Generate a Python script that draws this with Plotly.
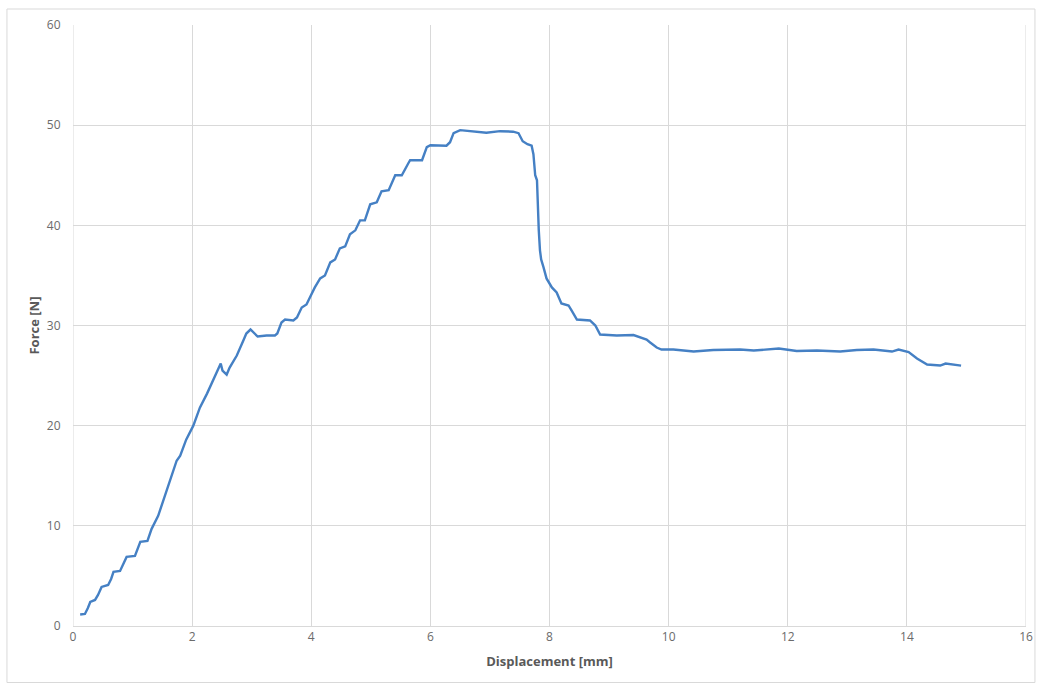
import plotly.graph_objects as go

displacement_mm = [
    0.12, 0.20, 0.25, 0.29, 0.37, 0.42, 0.48, 0.59, 0.64, 0.68, 0.79, 0.85, 0.90, 1.04,
    1.09, 1.13, 1.25, 1.32, 1.43, 1.50, 1.57, 1.65, 1.74, 1.80, 1.90, 2.02, 2.13, 2.25,
    2.36, 2.44, 2.48, 2.51, 2.58, 2.63, 2.75, 2.86, 2.91, 2.98, 3.03, 3.10, 3.25, 3.39,
    3.43, 3.50, 3.56, 3.70, 3.76, 3.84, 3.92, 4.01, 4.06, 4.15, 4.23, 4.32, 4.40, 4.48,
    4.57, 4.65, 4.74, 4.82, 4.90, 4.99, 5.10, 5.18, 5.30, 5.41, 5.52, 5.63, 5.66, 5.86,
    5.94, 6.00, 6.16, 6.27, 6.33, 6.39, 6.50, 6.72, 6.94, 7.17, 7.39, 7.48, 7.55, 7.63,
    7.70, 7.73, 7.76, 7.79, 7.80, 7.82, 7.84, 7.86, 7.90, 7.95, 8.04, 8.12, 8.20, 8.32,
    8.37, 8.46, 8.68, 8.77, 8.85, 9.13, 9.41, 9.52, 9.63, 9.69, 9.80, 9.88, 10.08, 10.42,
    10.75, 11.20, 11.43, 11.85, 12.15, 12.49, 12.88, 13.16, 13.44, 13.75, 13.86, 14.03,
    14.17, 14.34, 14.56, 14.65, 14.91,
]
force_n = [
    1.15, 1.2, 1.8, 2.4, 2.6, 3.1, 3.9, 4.1, 4.7, 5.4, 5.5, 6.2, 6.9, 7.0,
    7.7, 8.4, 8.5, 9.7, 11.0, 12.2, 13.5, 14.9, 16.5, 17.0, 18.6, 20.0, 21.8, 23.2,
    24.7, 25.8, 26.2, 25.5, 25.1, 25.8, 27.0, 28.5, 29.2, 29.6, 29.3, 28.9, 29.0, 29.0,
    29.2, 30.3, 30.6, 30.5, 30.8, 31.8, 32.1, 33.3, 33.8, 34.7, 35.0, 36.3, 36.6, 37.7,
    37.9, 39.1, 39.5, 40.5, 40.5, 42.1, 42.3, 43.4, 43.5, 45.0, 45.0, 46.2, 46.5, 46.5,
    47.8, 48.0, 48.0, 47.95, 48.3, 49.2, 49.5, 49.35, 49.25, 49.4, 49.35, 49.2, 48.4, 48.1,
    47.95, 47.1, 45.0, 44.5, 42.1, 39.5, 37.5, 36.6, 35.8, 34.7, 33.8, 33.3, 32.2, 32.0,
    31.5, 30.6, 30.5, 30.0, 29.1, 29.0, 29.05, 28.8, 28.6, 28.3, 27.8, 27.6, 27.6, 27.4,
    27.55, 27.6, 27.5, 27.7, 27.45, 27.5, 27.4, 27.55, 27.6, 27.4, 27.6, 27.35,
    26.7, 26.1, 26.0, 26.2, 26.0,
]

x_ticks = [0, 2, 4, 6, 8, 10, 12, 14, 16]
y_ticks = [0, 10, 20, 30, 40, 50, 60]

fig = go.Figure()
fig.add_trace(go.Scatter(
    x=displacement_mm, y=force_n, mode="lines",
    line=dict(color="#4580C4", width=2.4),
    showlegend=False,
))

axis_font = dict(family="Open Sans", size=12, color="#6B6B6B")
title_font = dict(family="Open Sans", size=13, color="#595959")

fig.update_layout(
    width=1038, height=684,
    margin=dict(l=73, r=12, t=25, b=58),
    paper_bgcolor="white", plot_bgcolor="white",
    xaxis=dict(
        range=[0, 16], tickvals=x_ticks, showgrid=True, gridcolor="#D9D9D9", gridwidth=1,
        zeroline=False, showline=True, linecolor="#D9D9D9", linewidth=1, mirror=False,
        tickfont=axis_font, ticks="", ticklen=0, automargin=False,
        title=dict(text="<b>Displacement [mm]</b>", font=title_font, standoff=12),
    ),
    yaxis=dict(
        range=[0, 60], tickvals=y_ticks, showgrid=True, gridcolor="#D9D9D9", gridwidth=1,
        zeroline=False, showline=False, tickfont=axis_font, ticks="outside",
        ticklen=9, tickcolor="rgba(0,0,0,0)", automargin=False,
        title=dict(text="<b>Force [N]</b>", font=title_font, standoff=4),
    ),
    shapes=[
        dict(type="rect", xref="paper", yref="paper",
             x0=-0.0693, x1=1.0094, y0=-0.094, y1=1.0266,
             line=dict(color="#D9D9D9", width=1), fillcolor="rgba(0,0,0,0)",
             layer="below"),
        dict(type="line", xref="x", yref="y", x0=0, x1=0, y0=0, y1=60,
             line=dict(color="#D9D9D9", width=1), layer="below"),
        dict(type="line", xref="x", yref="y", x0=16, x1=16, y0=0, y1=60,
             line=dict(color="#D9D9D9", width=1), layer="below"),
    ],
)

fig.write_html(
    "out.html",
    config={"displayModeBar": False},
    post_script="document.body.style.margin='0';document.body.style.overflow='hidden';",
)
